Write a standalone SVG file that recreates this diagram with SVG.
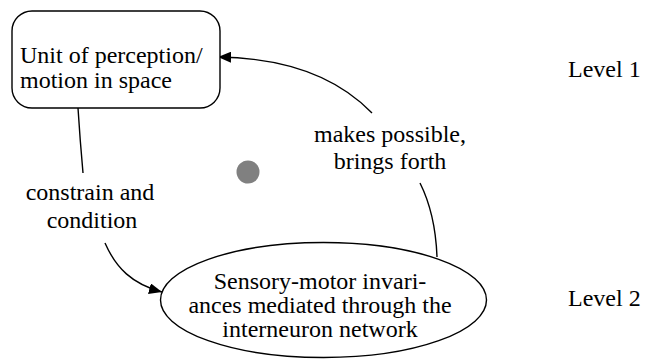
<svg xmlns="http://www.w3.org/2000/svg" width="653" height="360" viewBox="0 0 653 360">
  <style>
    text { font-family: "Liberation Serif", "Times New Roman", serif; font-size: 24px; fill: #000; }
    .mid { text-anchor: middle; }
    .shape { fill: #fff; stroke: #000; stroke-width: 1.4; }
    .edge { fill: none; stroke: #000; stroke-width: 1.4; }
  </style>
  <defs>
    <marker id="arrow" viewBox="0 0 13 11" refX="13" refY="5.5" markerWidth="13" markerHeight="11" markerUnits="userSpaceOnUse" orient="auto">
      <path d="M0,0 L13,5.5 L0,11 Z" fill="#000"/>
    </marker>
  </defs>

  <rect width="653" height="360" fill="#fff"/>

  <g id="connectors">
    <!-- level 1 down to level 2 -->
    <path class="edge" d="M78,108 Q80,140 83,173"/>
    <path class="edge" d="M105,243 C116,268 132,284 162,292" marker-end="url(#arrow)"/>
    <text class="mid" x="90" y="200">constrain and</text>
    <text class="mid" x="92" y="228">condition</text>
    <!-- level 2 back up to level 1 -->
    <path class="edge" d="M437,257 C436,230 431,205 420,183"/>
    <path class="edge" d="M372,113 C340,80 290,58 218,57" marker-end="url(#arrow)"/>
    <text class="mid" x="390" y="142">makes possible,</text>
    <text class="mid" x="390" y="169">brings forth</text>
  </g>

  <g id="unit-of-perception">
    <rect class="shape" x="12" y="11" width="208" height="97" rx="20" ry="20"/>
    <text x="20" y="63">Unit of perception/</text>
    <text x="20" y="88">motion in space</text>
  </g>

  <g id="sensory-motor">
    <ellipse class="shape" cx="323.5" cy="300" rx="163" ry="57.5"/>
    <text class="mid" x="320" y="289">Sensory-motor invari-</text>
    <text class="mid" x="320" y="313">ances mediated through the</text>
    <text class="mid" x="320" y="337">interneuron network</text>
  </g>

  <g id="centre-dot">
    <circle cx="248" cy="172" r="11.5" fill="#808080"/>
  </g>

  <g id="level-1">
    <text x="568" y="77">Level 1</text>
  </g>
  <g id="level-2">
    <text x="568" y="306">Level 2</text>
  </g>
</svg>
